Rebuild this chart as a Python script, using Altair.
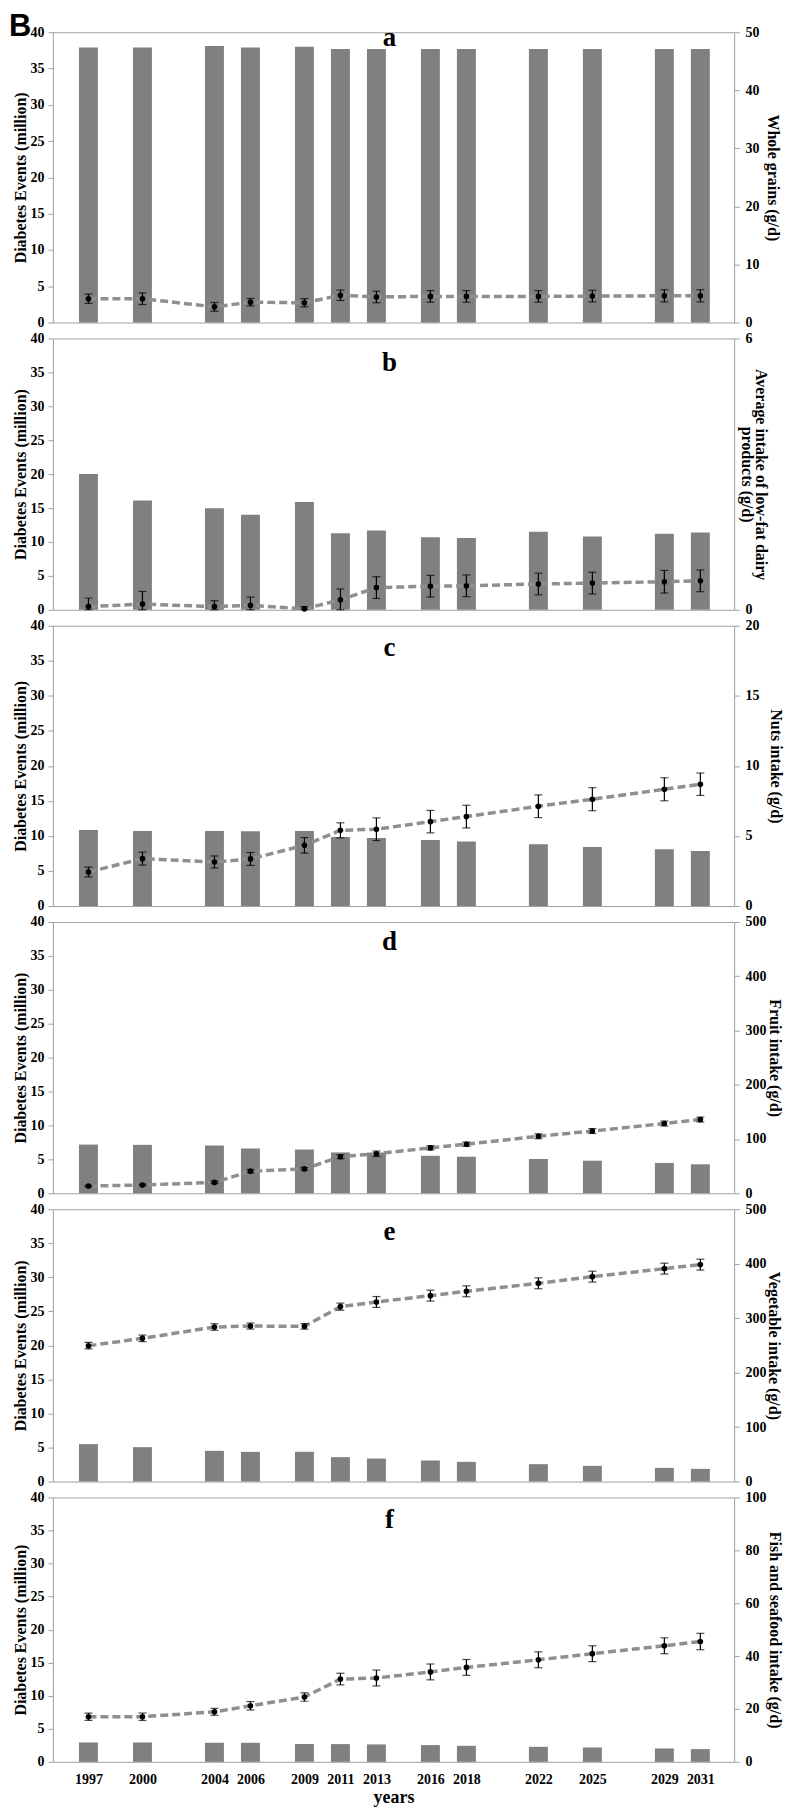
import altair as alt
import pandas as pd

years = [1997, 2000, 2004, 2006, 2009, 2011, 2013, 2016, 2018, 2022, 2025, 2029, 2031]

a_events = [37.9, 37.9, 38.1, 37.9, 38.0, 37.7, 37.7, 37.7, 37.7, 37.7, 37.7, 37.7, 37.7]
a_intake = [4.1, 4.1, 2.7, 3.5, 3.4, 4.7, 4.4, 4.5, 4.5, 4.5, 4.55, 4.6, 4.6]
a_err = [0.8, 1.0, 0.75, 0.65, 0.7, 0.9, 1.0, 1.0, 1.0, 1.0, 1.0, 1.05, 1.05]

b_events = [20.0, 16.1, 14.95, 14.0, 15.9, 11.3, 11.7, 10.7, 10.6, 11.5, 10.8, 11.2, 11.4]
b_intake = [0.07, 0.125, 0.07, 0.10, 0.02, 0.22, 0.49, 0.52, 0.53, 0.57, 0.59, 0.62, 0.64]
b_err = [0.19, 0.28, 0.13, 0.18, 0.05, 0.24, 0.24, 0.24, 0.24, 0.24, 0.24, 0.25, 0.24]

c_events = [10.86, 10.71, 10.71, 10.67, 10.71, 9.86, 9.71, 9.43, 9.19, 8.81, 8.43, 8.1, 7.86]
c_intake = [2.43, 3.38, 3.14, 3.36, 4.33, 5.4, 5.48, 6.02, 6.38, 7.12, 7.62, 8.33, 8.69]
c_err = [0.35, 0.46, 0.43, 0.46, 0.55, 0.54, 0.81, 0.8, 0.81, 0.81, 0.82, 0.82, 0.8]

d_events = [7.18, 7.14, 7.04, 6.6, 6.46, 6.02, 6.0, 5.53, 5.39, 5.05, 4.8, 4.47, 4.27]
d_intake = [13.3, 15.2, 20.0, 40.7, 44.9, 67.4, 72.8, 83.7, 90.4, 105.0, 114.7, 128.6, 135.9]
d_err = [1.5, 1.5, 2.0, 3.0, 2.5, 3.5, 5.0, 4.0, 4.0, 4.5, 4.5, 4.5, 4.5]

e_events = [5.49, 5.05, 4.51, 4.36, 4.36, 3.58, 3.38, 3.09, 2.89, 2.55, 2.3, 2.0, 1.86]
e_intake = [249.4, 262.9, 283.7, 285.5, 284.9, 321.1, 329.7, 341.3, 349.3, 364.0, 376.2, 390.9, 398.3]
e_err = [6, 6, 6, 5.5, 5, 6.5, 10, 10, 10, 10, 10, 10, 10]

f_events = [2.93, 2.93, 2.88, 2.88, 2.68, 2.68, 2.63, 2.53, 2.42, 2.27, 2.17, 2.02, 1.92]
f_intake = [17.05, 17.05, 18.9, 21.2, 24.5, 31.3, 31.7, 34.0, 35.7, 38.6, 40.9, 43.9, 45.5]
f_err = [1.4, 1.4, 1.3, 1.6, 1.6, 2.2, 3.0, 3.0, 3.0, 3.0, 3.0, 3.0, 3.1]

left_title = "Diabetes Events (million)"
x_title = "years"

FONT = "Liberation Serif"
X_DOMAIN = [1995.3, 2032.6]
W = 683
GRAY = "#a0a0a0"


def panel(letter, events, intake, err, right_title, right_max, right_values,
          height, letter_y, right_title_x, bottom=False, extra=None):
    df = pd.DataFrame({"year": years, "events": events, "intake": intake, "err": err})
    df["lo"] = (df["intake"] - df["err"]).clip(lower=0)
    df["hi"] = df["intake"] + df["err"]
    if bottom:
        xaxis = alt.Axis(values=years, format="d", ticks=False, domain=False,
                         labelPadding=11, labelFontSize=14, labelOverlap=False,
                         labelFlush=False, title=x_title, titleFontSize=18,
                         titlePadding=2, grid=False)
    else:
        xaxis = None
    x = alt.X("year:Q", scale=alt.Scale(domain=X_DOMAIN, nice=False, zero=False), axis=xaxis)
    base = alt.Chart(df)
    bars = base.mark_bar(color="#808080", size=19).encode(
        x=x,
        y=alt.Y("events:Q", scale=alt.Scale(domain=[0, 40], nice=False),
                axis=alt.Axis(values=list(range(0, 41, 5)), title=left_title,
                              titleX=-32, titleAngle=270, titleBaseline="middle",
                              labelPadding=4)),
    )
    yr = alt.Scale(domain=[0, right_max], nice=False)
    raxis = alt.Axis(orient="right", values=right_values, title=right_title,
                     titleX=right_title_x, titleAngle=90, titleLineHeight=14,
                     titleBaseline="middle", labelPadding=6)
    line = base.mark_line(color="#8f8f8f", strokeWidth=3.5, strokeDash=[8, 4]).encode(
        x=x, y=alt.Y("intake:Q", scale=yr, axis=raxis, title=right_title))
    rules = base.mark_rule(color="black", strokeWidth=1.2).encode(
        x=x, y=alt.Y("lo:Q", scale=yr, axis=raxis, title=right_title), y2="hi:Q")
    cap_lo = base.mark_tick(color="black", orient="horizontal", size=8, thickness=1.2).encode(
        x=x, y=alt.Y("lo:Q", scale=yr, axis=raxis, title=right_title))
    cap_hi = base.mark_tick(color="black", orient="horizontal", size=8, thickness=1.2).encode(
        x=x, y=alt.Y("hi:Q", scale=yr, axis=raxis, title=right_title))
    pts = base.mark_point(filled=True, color="black", size=32, opacity=1).encode(
        x=x, y=alt.Y("intake:Q", scale=yr, axis=raxis, title=right_title))
    right = alt.layer(line, rules, cap_lo, cap_hi, pts)
    label = alt.Chart(pd.DataFrame({"t": [letter]})).mark_text(
        font=FONT, fontWeight="bold", fontSize=27, baseline="alphabetic", align="center",
        color="black").encode(text="t:N", x=alt.value(W / 2 - 4), y=alt.value(letter_y))
    layers = [bars, right, label]
    if extra is not None:
        layers.append(extra)
    return alt.layer(*layers).resolve_scale(y="independent").properties(width=W, height=height)


big_b = alt.Chart(pd.DataFrame({"t": ["B"]})).mark_text(
    font="Liberation Sans", fontWeight="bold", fontSize=31, align="left", baseline="top",
    color="black").encode(text="t:N", x=alt.value(-44), y=alt.value(-20))

pa = panel("a", a_events, a_intake, a_err, "Whole grains (g/d)", 50,
           [0, 10, 20, 30, 40, 50], 291, 14, 38, extra=big_b)
pb = panel("b", b_events, b_intake, b_err,
           ["Average intake of low-fat dairy", "products (g/d)"], 6, [0, 6], 272, 33, 26)
pc = panel("c", c_events, c_intake, c_err, "Nuts intake (g/d)", 20,
           [0, 5, 10, 15, 20], 281, 30, 41)
pd_ = panel("d", d_events, d_intake, d_err, "Fruit intake (g/d)", 500,
            [0, 100, 200, 300, 400, 500], 272, 28, 40)
pe = panel("e", e_events, e_intake, e_err, "Vegetable intake (g/d)", 500,
           [0, 100, 200, 300, 400, 500], 273, 31, 39)
pf = panel("f", f_events, f_intake, f_err, "Fish and seafood intake (g/d)", 100,
           [0, 20, 40, 60, 80, 100], 265, 31, 40, bottom=True)

chart = alt.vconcat(pa, pb, pc, pd_, pe, pf, spacing=16, bounds="flush").properties(
    padding=0
).configure_view(
    stroke=GRAY, strokeWidth=1
).configure_axis(
    labelFont=FONT, labelFontWeight="bold", labelFontSize=14, labelColor="black",
    titleFont=FONT, titleFontWeight="bold", titleFontSize=16, titleColor="black",
    grid=False, domain=False, tickColor=GRAY, tickSize=5
)

chart.save("out.html", embed_options={"renderer": "svg", "actions": False})
